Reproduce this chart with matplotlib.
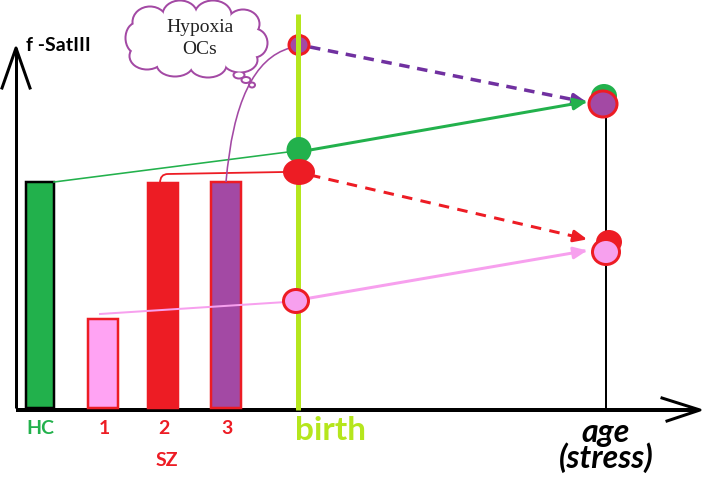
import matplotlib
matplotlib.use('Agg')
from matplotlib import pyplot as plt
from matplotlib.patches import Rectangle, Ellipse
from matplotlib.path import Path
from matplotlib.patches import PathPatch
import numpy as np

# values are heights above the age axis
categories = ['HC', '1', '2', '3']
bar_values = [226, 89, 225, 226]
bar_colors = ['#22b14c', '#ffa3f3', '#ed1c24', '#a349a4']
bar_edges = ['black', '#ed1c24', '#ed1c24', '#ed1c24']
label_colors = ['#22b14c', '#ed1c24', '#ed1c24', '#ed1c24']

groups = ['purple', 'green', 'red', 'pink']
birth_values = [363, 258, 236, 107]
age_values = [304, 312, 166, 156]

green = '#22b14c'
red = '#ed1c24'
purple = '#a349a4'
dpurple = '#7030a0'
pink = '#f7a0ee'
lime = '#b5e61d'

# layout (pixels)
bar_x = [40, 103, 163, 226]
bar_w = [28, 30, 30, 30]
x_birth = 298
x_age = 606

fig = plt.figure(figsize=(7.02, 4.79), dpi=100)
ax = fig.add_axes([0, 0, 1, 1])
ax.set_xlim(0, 702)
ax.set_ylim(-71, 408)
ax.axis('off')

px = 0.72  # points per pixel

# axes arrows
ax.plot([16, 16], [0, 360], color='black', lw=3 * px, solid_capstyle='butt')
ax.plot([2, 16, 30], [320, 360, 320], color='black', lw=3 * px)
ax.plot([16, 698], [-2, -2], color='black', lw=4 * px, solid_capstyle='butt')
ax.plot([662, 700, 667], [10, -2, -13], color='black', lw=3 * px)

# bars
for x, w, v, fc, ec in zip(bar_x, bar_w, bar_values, bar_colors, bar_edges):
    ax.add_patch(Rectangle((x - w / 2, 0), w, v, facecolor=fc, edgecolor=ec,
                           lw=2.5 * px, zorder=3))

# age vertical line
ax.plot([x_age, x_age], [0, age_values[0]], color='black', lw=2 * px, zorder=2)

# birth line
ax.plot([x_birth, x_birth], [-2, 394], color=lime, lw=5 * px, zorder=4,
        solid_capstyle='butt')

d = dict(zip(groups, birth_values))
a = dict(zip(groups, age_values))

# thin connectors from bars to birth
ax.plot([bar_x[0] + 14, x_birth - 10], [bar_values[0], d['green'] - 2],
        color=green, lw=1.6 * px, zorder=3)
ax.plot([bar_x[1] - 3, x_birth - 12], [bar_values[1] + 5, d['pink'] - 1],
        color=pink, lw=2 * px, zorder=3.5)

red_path = Path([(bar_x[2] - 3, bar_values[2]), (bar_x[2] - 3, d['red'] - 2),
                 (bar_x[2] + 5, d['red'] - 2), (x_birth - 14, d['red'])],
                [Path.MOVETO, Path.CURVE3, Path.CURVE3, Path.LINETO])
ax.add_patch(PathPatch(red_path, fill=False, edgecolor=red, lw=1.8 * px, zorder=3))

pur_path = Path([(bar_x[3], bar_values[3]), (236, 345), (x_birth - 8, d['purple'] - 3)],
                [Path.MOVETO, Path.CURVE3, Path.CURVE3])
ax.add_patch(PathPatch(pur_path, fill=False, edgecolor=purple, lw=1.6 * px, zorder=3))

# arrows from birth to age
def arrow(y0, y1, color, lw, ls='-'):
    x0, x1 = x_birth + 12, x_age - 16
    ax.plot([x0, x1 - 6], [y0, y1 - (y1 - y0) * 6 / (x1 - x0)],
            color=color, lw=lw, ls=ls, zorder=3)
    ax.annotate('', xy=(x1, y1), xytext=(x1 - 14, y1 - (y1 - y0) * 14 / (x1 - x0)),
                arrowprops=dict(arrowstyle='-|>,head_length=0.8,head_width=0.35',
                                color=color, lw=lw), zorder=3)

arrow(d['purple'] - 2, a['purple'] + 1, dpurple, 3.5 * px, (0, (3, 2.2)))
arrow(d['green'], a['green'] - 5, green, 3 * px)
arrow(d['red'] - 3, a['red'] + 2, red, 3 * px, (0, (3.5, 2.8)))
arrow(d['pink'] + 3, a['pink'] + 2, pink, 3 * px)

# circles at birth
ax.add_patch(Ellipse((x_birth + 1, d['purple']), 20, 19, facecolor=purple,
                     edgecolor=red, lw=3 * px, zorder=3.8))
ax.add_patch(Ellipse((x_birth + 1, d['green']), 25, 26, facecolor=green,
                     edgecolor='none', zorder=5))
ax.add_patch(Ellipse((x_birth + 1, d['red']), 32, 26, facecolor=red,
                     edgecolor='none', zorder=5))
ax.add_patch(Ellipse((x_birth - 2, d['pink']), 25, 23, facecolor=pink,
                     edgecolor=red, lw=3 * px, zorder=5))

# circles at age
ax.add_patch(Ellipse((x_age - 2, a['green']), 26, 24, facecolor=green,
                     edgecolor='none', zorder=5))
ax.add_patch(Ellipse((x_age - 3, a['purple']), 28, 26, facecolor=purple,
                     edgecolor=red, lw=3 * px, zorder=5))
ax.add_patch(Ellipse((x_age + 3, a['red']), 26, 24, facecolor=red,
                     edgecolor='none', zorder=5))
ax.add_patch(Ellipse((x_age, a['pink']), 27, 25, facecolor=pink,
                     edgecolor=red, lw=3 * px, zorder=5))

# thought cloud
bumps = [(150, 386, 34, 30), (180, 393, 34, 28), (213, 393, 36, 28),
         (243, 384, 32, 28), (254, 365, 26, 28), (240, 348, 34, 24),
         (208, 343, 36, 24), (175, 344, 36, 24), (147, 352, 34, 26),
         (137, 370, 22, 30), (197, 368, 110, 50)]
for cx, cy, w, h in bumps:
    ax.add_patch(Ellipse((cx, cy), w, h, facecolor='white', edgecolor=purple,
                         lw=3 * px, zorder=6))
for cx, cy, w, h in bumps:
    ax.add_patch(Ellipse((cx, cy), w - 1, h - 1, facecolor='white',
                         edgecolor='none', zorder=6.5))
for cx, cy, w, h in [(239, 333, 11, 7), (246, 328, 9, 6), (252, 323, 6, 5)]:
    ax.add_patch(Ellipse((cx, cy), w, h, facecolor='white', edgecolor=purple,
                         lw=2 * px, zorder=6))
ax.text(200, 381, 'Hypoxia', ha='center', va='center', fontsize=14,
        family='Liberation Serif', color='#222222', zorder=7)
ax.text(200, 359, 'OCs', ha='center', va='center', fontsize=14,
        family='Liberation Serif', color='#222222', zorder=7)

# labels
ax.text(26, 363, 'f -SatIII', ha='left', va='center', fontsize=14,
        family='Lato', weight='bold')
for x, lab, c in zip(bar_x, categories, label_colors):
    ax.text(x + (1 if lab != 'HC' else 0), -21, lab, ha='center', va='center',
            fontsize=14, family='Lato', weight='bold', color=c)
ax.text(167, -52, 'SZ', ha='center', va='center', fontsize=14, family='Lato',
        weight='bold', color=red)
ax.text(295, -32, 'birth', ha='left', va='baseline', fontsize=24, family='Lato',
        weight='bold', color=lime)
ax.text(606, -60, 'age\n(stress)', ha='center', va='baseline', fontsize=23,
        family='Lato', weight='bold', style='italic', linespacing=0.82)

fig.savefig('out.png', dpi=100)
